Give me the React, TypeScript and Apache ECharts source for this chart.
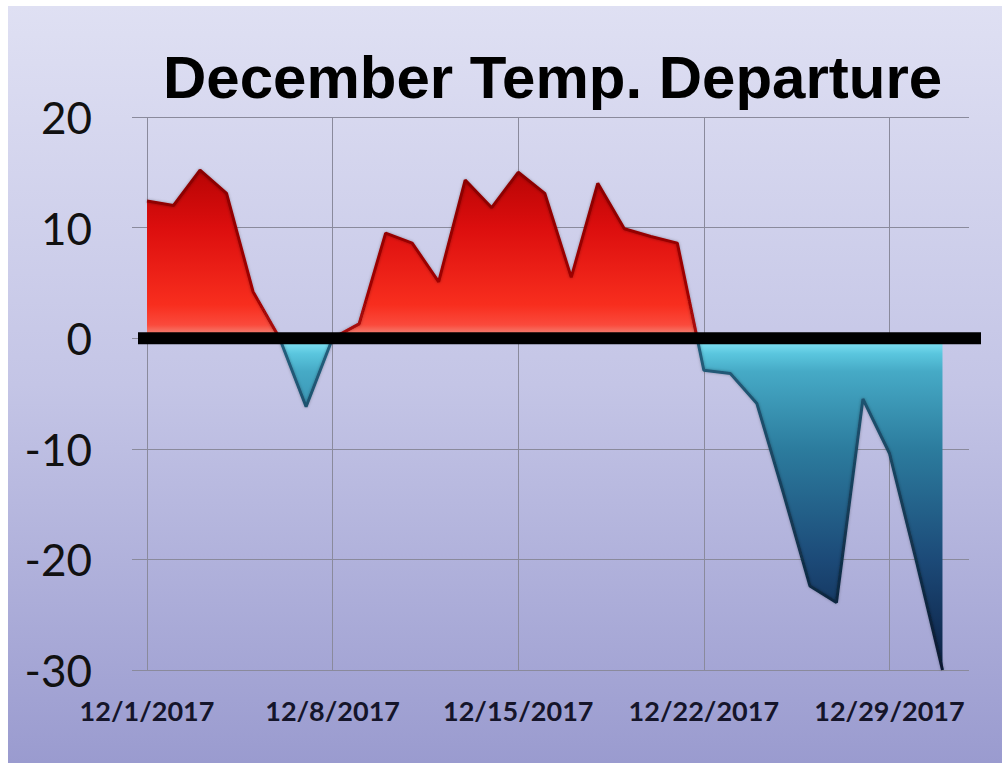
import React, { useEffect, useRef } from "react";
import * as echarts from "echarts";

const titleText = "December Temp. Departure";

const categories = [
  "12/1/2017", "12/2/2017", "12/3/2017", "12/4/2017", "12/5/2017", "12/6/2017", "12/7/2017",
  "12/8/2017", "12/9/2017", "12/10/2017", "12/11/2017", "12/12/2017", "12/13/2017", "12/14/2017",
  "12/15/2017", "12/16/2017", "12/17/2017", "12/18/2017", "12/19/2017", "12/20/2017", "12/21/2017",
  "12/22/2017", "12/23/2017", "12/24/2017", "12/25/2017", "12/26/2017", "12/27/2017", "12/28/2017",
  "12/29/2017", "12/30/2017", "12/31/2017", "1/1/2018",
];

const departure = [
  12.4, 12.0, 15.2, 13.1, 4.2, 0.0, -6.2,
  0.0, 1.3, 9.5, 8.6, 5.1, 14.3, 11.8,
  15.0, 13.1, 5.5, 14.0, 9.9, 9.2, 8.6,
  -2.9, -3.2, -5.9, -14.0, -22.4, -23.9, -5.5,
  -10.4, -20.0, -30.0,
];

const yTicks = { min: -30, max: 20, interval: 10 };
const labelEvery = 7;

export default function App() {
  const ref = useRef<HTMLDivElement>(null);

  useEffect(() => {
    if (!ref.current) return;
    const chart = echarts.init(ref.current, undefined, { renderer: "svg" });

    const maxV = Math.max(...departure, 0);
    const minV = Math.min(...departure, 0);
    const off = (v: number) => Math.min(1, Math.max(0, (maxV - v) / (maxV - minV)));
    const z = off(0);

    const areaGrad = new echarts.graphic.LinearGradient(0, 0, 0, 1, [
      { offset: 0, color: "#b80404" },
      { offset: off(10), color: "#dc0e0e" },
      { offset: off(3), color: "#f82e1e" },
      { offset: off(1.2), color: "#fa4a3c" },
      { offset: z - 0.0005, color: "#f09a8c" },
      { offset: z + 0.0005, color: "#8ceafa" },
      { offset: off(-1.4), color: "#5ac6de" },
      { offset: off(-3), color: "#46aac6" },
      { offset: off(-10), color: "#2c7c9e" },
      { offset: off(-20), color: "#1c4a78" },
      { offset: 1, color: "#0c2044" },
    ]);
    const lineGrad = new echarts.graphic.LinearGradient(0, 0, 0, 1, [
      { offset: 0, color: "#8a0000" },
      { offset: z - 0.0005, color: "#a80808" },
      { offset: z + 0.0005, color: "#24607e" },
      { offset: 1, color: "#081830" },
    ]);

    chart.setOption({
      animation: false,
      title: {
        text: titleText,
        left: 150,
        top: 36,
        textStyle: {
          fontFamily: "Liberation Sans",
          fontWeight: "bold",
          fontSize: 60,
          color: "#000",
        },
      },
      grid: { left: 139, right: 33, top: 111, bottom: 93 },
      xAxis: {
        type: "category",
        data: categories,
        boundaryGap: false,
        axisLine: { show: false, onZero: false },
        axisTick: { show: false },
        axisLabel: {
          interval: (i: number) => i % labelEvery === 0 && i < departure.length,
          fontFamily: "Lato",
          fontWeight: "bold",
          fontSize: 27,
          color: "#15152a",
          margin: 27,
        },
        splitLine: {
          show: true,
          interval: (i: number) => i % labelEvery === 0 && i < departure.length,
          lineStyle: { color: "#8a8a9c", width: 1 },
        },
      },
      yAxis: {
        type: "value",
        min: yTicks.min,
        max: yTicks.max,
        interval: yTicks.interval,
        axisLine: { show: false },
        axisTick: { show: true, length: 15, lineStyle: { color: "#8a8a9c" } },
        axisLabel: {
          fontFamily: "Lato",
          fontSize: 44,
          color: "#111",
          margin: 55,
        },
        splitLine: { show: true, lineStyle: { color: "#8a8a9c", width: 1 } },
      },
      series: [
        {
          type: "line",
          data: departure,
          symbol: "none",
          lineStyle: {
            color: lineGrad,
            width: 3,
            shadowColor: "rgba(0,0,0,0.3)",
            shadowBlur: 3,
          },
          areaStyle: { color: areaGrad, opacity: 1 },
          z: 3,
        },
      ],
    });

    const [x0, y0] = chart.convertToPixel({ gridIndex: 0 }, [0, 0]) as number[];
    const [x1] = chart.convertToPixel({ gridIndex: 0 }, [categories.length - 1, 0]) as number[];
    chart.setOption({
      graphic: [
        {
          type: "line",
          z: 100,
          shape: { x1: x0 - 9, y1: y0, x2: x1 + 12, y2: y0 },
          style: { stroke: "#000", lineWidth: 12 },
        },
      ],
    });

    return () => chart.dispose();
  }, []);

  return (
    <div
      style={{
        position: "absolute",
        left: 8,
        top: 6,
        width: 994,
        height: 757,
        background: "linear-gradient(to bottom, #dfe0f3 0%, #c4c5e6 50%, #9a9bcf 100%)",
      }}
    >
      <div ref={ref} style={{ width: 994, height: 757 }} />
    </div>
  );
}
